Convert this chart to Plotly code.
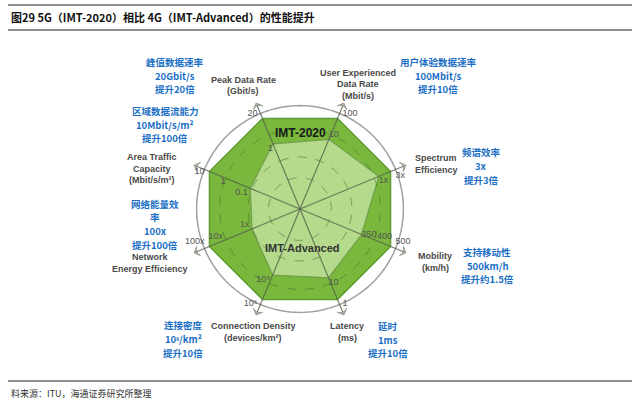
import numpy as np
import plotly.graph_objects as go

# ---- data ----
axes_en = ["Peak Data Rate", "User Experienced Data Rate", "Spectrum Efficiency", "Mobility",
           "Latency", "Connection Density", "Network Energy Efficiency", "Area Traffic Capacity"]
imt2020 = [1.0, 1.0, 1.0, 1.0, 1.0, 1.0, 1.0, 1.0]          # normalised radius
imt_adv = [0.72, 0.77, 0.87, 0.68, 0.76, 0.73, 0.53, 0.55]  # normalised radius
outer_ticks = ["20  ", "  100", "  3x", "  500", "  1", "10⁶  ", "100x  ", "10  "]
inner_ticks = ["1", "10", "1x", "350", "10", "10⁵ ", "1x ", "0.1 "]
mid_ticks = [None, None, None, "400", None, None, "10x", "1"]
mid_r = 0.85

theta = [i * 45 for i in range(len(axes_en))]

fig = go.Figure()

# IMT-2020 octagon
fig.add_trace(go.Scatterpolar(r=imt2020 + imt2020[:1], theta=theta + theta[:1], mode="lines",
                              fill="toself", fillcolor="#79b83c",
                              line=dict(color="#5f9a34", width=1.5), hoverinfo="skip"))
# IMT-Advanced polygon
fig.add_trace(go.Scatterpolar(r=imt_adv + imt_adv[:1], theta=theta + theta[:1], mode="lines",
                              fill="toself", fillcolor="#b5da8c",
                              line=dict(color="#6f9f4a", width=1.2), hoverinfo="skip"))

# dashed circles
circ_t = np.linspace(0, 360, 181)
for rr in [0.32, 0.53, 0.82]:
    fig.add_trace(go.Scatterpolar(r=[rr] * len(circ_t), theta=circ_t, mode="lines",
                                  line=dict(color="rgba(70,110,50,0.55)", width=1, dash="dash"),
                                  hoverinfo="skip"))
# outer grey circle
fig.add_trace(go.Scatterpolar(r=[1.055] * len(circ_t), theta=circ_t, mode="lines",
                              line=dict(color="#a0a0a0", width=1.5), hoverinfo="skip"))

# axis lines with arrows
for t in theta:
    fig.add_trace(go.Scatterpolar(r=[0, 1.17], theta=[t, t], mode="lines+markers",
                                  line=dict(color="rgba(85,100,75,0.8)", width=1.2),
                                  marker=dict(symbol="arrow-wide", size=[0, 7], angleref="previous",
                                              color="#8a8a8a"),
                                  hoverinfo="skip"))

lab_font = dict(family="Liberation Sans, Arial", size=9, color="#555")
outer_pos = ["top left", "top right", "bottom right", "top right",
             "bottom right", "bottom left", "top left", "middle left"]
inner_pos = ["bottom left", "top right", "bottom right", "middle right",
             "bottom right", "bottom left", "top left", "bottom left"]
mid_pos = {3: "top right", 6: "top left", 7: "bottom center"}

fig.add_trace(go.Scatterpolar(r=imt2020, theta=theta, mode="text", text=outer_ticks,
                              textposition=outer_pos, textfont=lab_font, hoverinfo="skip"))
fig.add_trace(go.Scatterpolar(r=imt_adv, theta=theta, mode="text", text=inner_ticks,
                              textposition=inner_pos, textfont=lab_font, hoverinfo="skip"))
mi = [i for i, m in enumerate(mid_ticks) if m]
fig.add_trace(go.Scatterpolar(r=[mid_r] * len(mi), theta=[theta[i] for i in mi], mode="text",
                              text=[mid_ticks[i] for i in mi], textposition=[mid_pos[i] for i in mi],
                              textfont=lab_font, hoverinfo="skip"))

cx, cy, R = 300, 209, 117.6
W, H = 640, 407
fig.update_layout(
    width=W, height=H, margin=dict(l=0, r=0, t=0, b=0),
    paper_bgcolor="white", showlegend=False,
    polar=dict(
        domain=dict(x=[(cx - R) / W, (cx + R) / W], y=[1 - (cy + R) / H, 1 - (cy - R) / H]),
        bgcolor="rgba(0,0,0,0)",
        radialaxis=dict(range=[0, 1.2], visible=False, showgrid=False),
        angularaxis=dict(thetaunit="degrees", rotation=112.5, direction="clockwise",
                         visible=False, showgrid=False),
    ),
)

def px(x, y):
    return x / W, 1 - y / H

ann = []
def add_text(x, y, text, font, align="center", xanchor="center"):
    xx, yy = px(x, y)
    ann.append(dict(x=xx, y=yy, xref="paper", yref="paper", text=text, showarrow=False,
                    font=font, align=align, xanchor=xanchor, yanchor="middle", borderpad=0))

def add_lines(x, y0, lines, font, step, xanchor="center", bold=True):
    for k, ln in enumerate(lines):
        add_text(x, y0 + k * step, f"<b>{ln}</b>" if bold else ln, font, xanchor=xanchor,
                 align="left" if xanchor == "left" else "center")

en_font = dict(family="Liberation Sans, Arial", size=9, color="#4a4a4a")
cn_font = dict(family="Noto Sans CJK SC", size=9.5, color="#1a6fc4")

# title
add_text(10, 17, "<b>图29 5G（IMT-2020）相比 4G（IMT-Advanced）的性能提升</b>",
         dict(family="Noto Sans CJK SC", size=11, color="#111"), xanchor="left", align="left")
add_text(10, 393, "料来源：ITU，海通证券研究所整理",
         dict(family="Noto Sans CJK SC", size=9, color="#333"), xanchor="left", align="left")

# english axis labels
add_lines(243, 80, ["Peak Data Rate", "(Gbit/s)"], en_font, 11.5)
add_lines(358, 73, ["User Experienced", "Data Rate", "(Mbit/s)"], en_font, 11.5)
add_lines(414, 158, ["Spectrum", "Efficiency"], en_font, 12, xanchor="left")
add_lines(435, 256, ["Mobility", "(km/h)"], en_font, 12)
add_lines(347, 326, ["Latency", "(ms)"], en_font, 11.5)
add_lines(253, 326, ["Connection Density", "(devices/km²)"], en_font, 11.5)
add_lines(150, 257, ["Network", "Energy Efficiency"], en_font, 11.5)
add_lines(152, 157, ["Area Traffic", "Capacity", "(Mbit/s/m²)"], en_font, 11.5)

# chinese blue labels
add_lines(175, 62, ["峰值数据速率", "20Gbit/s", "提升20倍"], cn_font, 13.5)
add_lines(165, 111, ["区域数据流能力", "10Mbit/s/m²", "提升100倍"], cn_font, 13.5)
add_lines(438, 62, ["用户体验数据速率", "100Mbit/s", "提升10倍"], cn_font, 13.5)
add_lines(481, 152, ["频谱效率", "3x", "提升3倍"], cn_font, 14)
add_lines(155, 204, ["网络能量效", "率", "100x", "提升100倍"], cn_font, 13.5)
add_lines(487, 252, ["支持移动性", "500km/h", "提升约1.5倍"], cn_font, 13.5)
add_lines(183, 325, ["连接密度", "10⁶/km²", "提升10倍"], cn_font, 14)
add_lines(388, 326, ["延时", "1ms", "提升10倍"], cn_font, 13.5)

# series labels
add_text(300, 133, "<b>IMT-2020</b>", dict(family="Liberation Sans, Arial", size=12, color="#1a1a1a"))
add_text(302, 248, "<b>IMT-Advanced</b>", dict(family="Liberation Sans, Arial", size=11, color="#333"))

fig.update_layout(annotations=ann)

# header / footer rules
for y in [5, 30, 381]:
    fig.add_shape(type="line", xref="paper", yref="paper", x0=8 / W, x1=632 / W,
                  y0=1 - y / H, y1=1 - y / H, line=dict(color="#222", width=1.2))

fig.write_html("out.html")
